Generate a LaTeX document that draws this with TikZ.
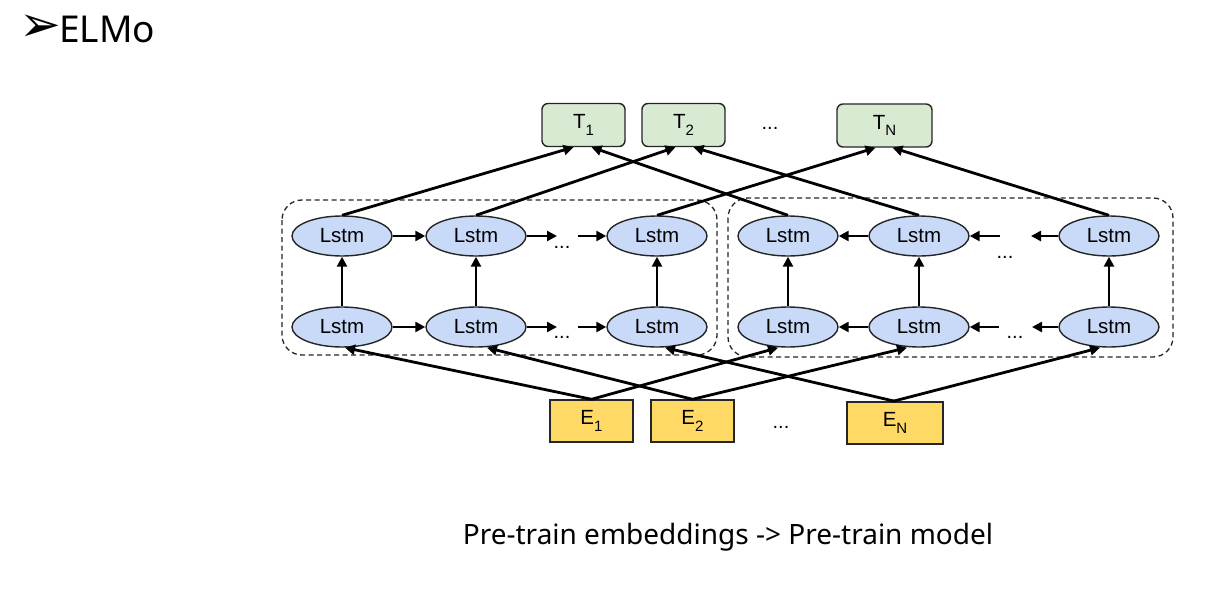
\documentclass[tikz,border=0pt]{standalone}
\usepackage{fontspec}
\setmainfont{Liberation Sans}
\newfontfamily\notosans{Noto Sans}
\newfontfamily\dejavu{DejaVu Sans}
\usetikzlibrary{arrows.meta,calc,shapes.geometric}
\definecolor{lstmblue}{HTML}{C9DAF8}
\definecolor{tgreen}{HTML}{D9EAD3}
\definecolor{eyellow}{HTML}{FFD966}
\newcommand{\subn}[1]{\raisebox{-0.62ex}{\fontsize{15}{15}\selectfont #1}}
\tikzset{
  lstm/.style={ellipse, draw=black!85, line width=1.4pt, fill=lstmblue, minimum width=100pt, minimum height=40pt, inner sep=0pt, font=\fontsize{20.5}{20.5}\selectfont},
  tbox/.style={rectangle, rounded corners=6pt, draw=black!85, line width=1.4pt, fill=tgreen, minimum height=43pt, inner sep=0pt, font=\fontsize{20.5}{20.5}\selectfont},
  ebox/.style={rectangle, draw=black!85, line width=1.4pt, fill=eyellow, minimum height=42pt, inner sep=0pt, font=\fontsize{20.5}{20.5}\selectfont},
  dotsn/.style={font=\fontsize{20}{20}\selectfont, inner sep=0pt},
  conn/.style={line width=2.8pt, -{Triangle[length=10pt,width=10pt]}},
  grp/.style={draw=black!85, line width=1.3pt, dash pattern=on 5pt off 3.5pt, rounded corners=20pt},
}
\begin{document}
\begin{tikzpicture}[x=1pt,y=-1pt]
\useasboundingbox (0,0) rectangle (1216,594);
\fill[white] (0,0) rectangle (1216,594);

% title
\node[inner sep=0pt] (bullet) at (40,28) {\dejavu\fontsize{50}{50}\selectfont ➢};
\node[anchor=west, inner sep=0pt] (title) at (59,29) {\notosans\fontsize{37}{37}\selectfont ELMo};

% dashed groups
\draw[grp] (282,200) rectangle (717,355);
\draw[grp] (728,198) rectangle (1173,357);

% T boxes
\node[tbox, minimum width=83pt] (T1) at (583.5,125) {T\subn{1}};
\node[tbox, minimum width=83pt] (T2) at (683.5,125) {T\subn{2}};
\node[dotsn] (Tdots) at (770,128) {...};
\node[tbox, minimum width=95pt] (TN) at (884.5,125.5) {T\subn{N}};

% E boxes
\node[ebox, minimum width=83pt] (E1) at (591.5,421) {E\subn{1}};
\node[ebox, minimum width=83pt] (E2) at (692.5,421) {E\subn{2}};
\node[dotsn] (Edots) at (781,427) {...};
\node[ebox, minimum width=96pt] (EN) at (895,423) {E\subn{N}};

% left group
\node[lstm] (A1) at (342,236) {Lstm};
\node[lstm] (A2) at (476,236) {Lstm};
\node[lstm] (A3) at (657,236) {Lstm};
\node[lstm] (B1) at (342,327) {Lstm};
\node[lstm] (B2) at (476,327) {Lstm};
\node[lstm] (B3) at (657,327) {Lstm};
\node[dotsn] (Ad) at (562,247) {...};
\node[dotsn] (Bd) at (562,337) {...};

% right group
\node[lstm] (C1) at (788,236) {Lstm};
\node[lstm] (C2) at (919,236) {Lstm};
\node[lstm] (C3) at (1109,236) {Lstm};
\node[lstm] (D1) at (788,327) {Lstm};
\node[lstm] (D2) at (919,327) {Lstm};
\node[lstm] (D3) at (1109,327) {Lstm};
\node[dotsn] (Cd) at (1005,257) {...};
\node[dotsn] (Dd) at (1015,337) {...};

% free ends
\coordinate (a2o) at (557,236);
\coordinate (a3i) at (578,236);
\coordinate (b2o) at (557,327);
\coordinate (b3i) at (578,327);
\coordinate (c2i) at (1000,236);
\coordinate (c3o) at (1031,236);
\coordinate (d2i) at (999,327);
\coordinate (d3o) at (1032,327);

% horizontal
\draw[conn] (A1) -- (A2);
\draw[conn] (A2) -- (a2o);
\draw[conn] (a3i) -- (A3);
\draw[conn] (B1) -- (B2);
\draw[conn] (B2) -- (b2o);
\draw[conn] (b3i) -- (B3);
\draw[conn] (C2) -- (C1);
\draw[conn] (c2i) -- (C2);
\draw[conn] (C3) -- (c3o);
\draw[conn] (D2) -- (D1);
\draw[conn] (d2i) -- (D2);
\draw[conn] (D3) -- (d3o);

% vertical
\foreach \l/\u in {B1/A1,B2/A2,B3/A3,D1/C1,D2/C2,D3/C3}
  \draw[conn] (\l) -- (\u);

% to T
\draw[conn] (A1.north) -- ($(T1.south)+(-10,0)$);
\draw[conn] (C1.north) -- ($(T1.south)+(8,0)$);
\draw[conn] (A2.north) -- ($(T2.south)+(-8,0)$);
\draw[conn] (C2.north) -- ($(T2.south)+(10,0)$);
\draw[conn] (A3.north) -- ($(TN.south)+(-9,0)$);
\draw[conn] (C3.north) -- ($(TN.south)+(8,0)$);

% from E
\draw[conn] (E1.north) -- ($(B1.south)+(3,0)$);
\draw[conn] (E2.north) -- ($(B2.south)+(11,0)$);
\draw[conn] (EN.north) -- ($(B3.south)+(8,0)$);
\draw[conn] (E1.north) -- ($(D1.south)+(-10,0)$);
\draw[conn] (E2.north) -- ($(D2.south)+(-12,0)$);
\draw[conn] ($(EN.north)+(-2,0)$) -- ($(D3.south)+(-9,0)$);

% caption
\node[inner sep=0pt, font=\notosans\fontsize{28}{28}\selectfont] (cap) at (728,537) {Pre-train embeddings -> Pre-train model};
\end{tikzpicture}
\end{document}
